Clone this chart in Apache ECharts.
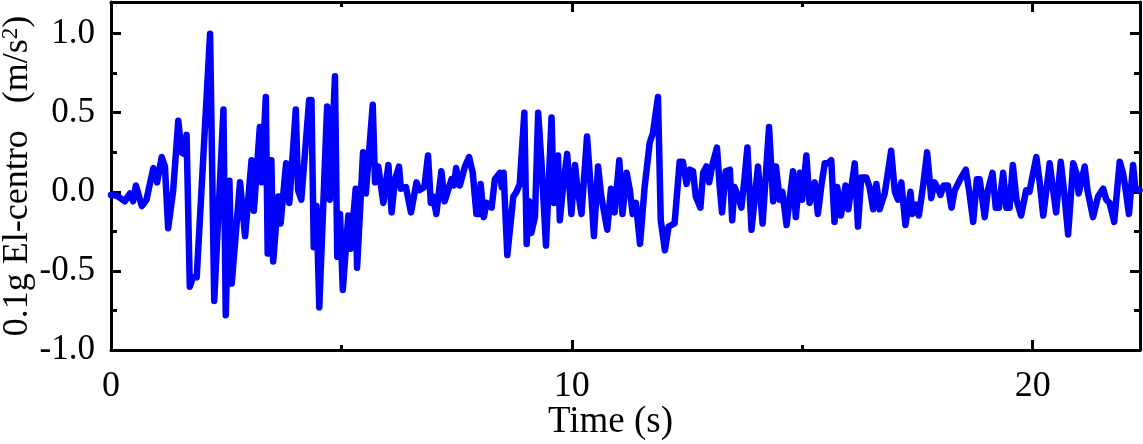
<!DOCTYPE html>
<html><head><meta charset="utf-8">
<script src="https://cdn.jsdelivr.net/npm/echarts@6/dist/echarts.min.js"></script>
<style>html,body{margin:0;padding:0;background:#fff}#c{width:1143px;height:444px}</style>
</head><body><div id="c"></div>
<script>
const timeS = [
  0.00, 0.05, 0.16, 0.30, 0.41, 0.48, 0.54, 0.67, 0.77, 0.85, 0.92, 1.00, 1.10, 1.17, 1.24, 1.35, 1.46, 1.53, 1.58, 1.64,
  1.71, 1.78, 1.86, 2.15, 2.24, 2.44, 2.49, 2.57, 2.62, 2.80, 2.91, 3.05, 3.10, 3.23, 3.27, 3.36, 3.40, 3.48, 3.52, 3.63,
  3.68, 3.80, 3.87, 4.01, 4.06, 4.13, 4.30, 4.35, 4.40, 4.46, 4.52, 4.69, 4.75, 4.86, 4.91, 4.97, 5.03, 5.15, 5.20, 5.31,
  5.34, 5.47, 5.53, 5.68, 5.73, 5.80, 5.91, 6.02, 6.09, 6.16, 6.25, 6.29, 6.40, 6.51, 6.63, 6.69, 6.80, 6.88, 6.94, 6.99,
  7.06, 7.17, 7.24, 7.39, 7.44, 7.49, 7.57, 7.68, 7.77, 7.85, 7.93, 8.00, 8.02, 8.09, 8.15, 8.26, 8.33, 8.44, 8.48, 8.52,
  8.60, 8.73, 8.80, 8.87, 8.97, 9.02, 9.07, 9.12, 9.20, 9.27, 9.34, 9.44, 9.56, 9.61, 9.70, 9.74, 9.81, 9.90, 9.99, 10.07,
  10.12, 10.21, 10.33, 10.43, 10.48, 10.57, 10.64, 10.77, 10.85, 10.93, 11.03, 11.10, 11.19, 11.26, 11.32, 11.39, 11.48, 11.58, 11.69, 11.76,
  11.87, 11.93, 12.02, 12.10, 12.23, 12.34, 12.41, 12.49, 12.56, 12.63, 12.69, 12.79, 12.85, 12.92, 12.98, 13.05, 13.15, 13.21, 13.26, 13.34,
  13.43, 13.48, 13.53, 13.61, 13.68, 13.75, 13.81, 13.90, 14.04, 14.14, 14.28, 14.37, 14.43, 14.51, 14.57, 14.66, 14.80, 14.86, 14.95, 15.00,
  15.09, 15.16, 15.27, 15.34, 15.42, 15.49, 15.56, 15.63, 15.70, 15.76, 15.84, 15.94, 16.00, 16.14, 16.21, 16.28, 16.39, 16.46, 16.54, 16.61,
  16.68, 16.79, 16.93, 17.01, 17.08, 17.15, 17.24, 17.35, 17.39, 17.46, 17.53, 17.62, 17.71, 17.80, 17.87, 17.95, 18.00, 18.07, 18.16, 18.24,
  18.31, 18.45, 18.55, 18.63, 18.71, 18.79, 18.85, 18.96, 19.03, 19.13, 19.20, 19.27, 19.36, 19.43, 19.50, 19.57, 19.65, 19.75, 19.86, 19.93,
  20.08, 20.15, 20.23, 20.37, 20.44, 20.51, 20.61, 20.68, 20.77, 20.88, 20.95, 21.00, 21.13, 21.19, 21.31, 21.42, 21.53, 21.60, 21.67, 21.77,
  21.89, 21.96, 22.01, 22.09, 22.18, 22.23, 22.32
];
const accel = [
  -0.02, -0.02, -0.03, -0.06, -0.01, -0.06, 0.04, -0.09, -0.05, 0.06, 0.15, 0.06, 0.22, 0.16, -0.23, 0.01, 0.45, 0.25, 0.24, 0.36,
  -0.60, -0.54, -0.54, 1.00, -0.69, 0.52, -0.78, 0.07, -0.58, 0.06, -0.28, 0.20, -0.12, 0.41, 0.06, 0.60, -0.39, 0.20, -0.44, -0.03,
  -0.20, 0.18, -0.07, 0.52, 0.01, -0.05, 0.58, 0.58, -0.35, -0.09, -0.73, 0.54, -0.05, 0.73, -0.41, -0.14, -0.62, -0.15, -0.36, 0.02,
  -0.48, 0.25, -0.01, 0.55, 0.06, 0.16, -0.07, 0.17, -0.13, 0.07, 0.16, 0.02, 0.03, -0.13, 0.06, 0.01, 0.03, 0.23, -0.07, -0.03,
  -0.14, 0.13, -0.06, 0.08, 0.04, 0.15, 0.04, 0.16, 0.22, 0.12, -0.14, -0.14, 0.05, -0.16, -0.07, -0.10, 0.08, 0.12, 0.03, 0.12,
  -0.40, -0.03, 0.00, 0.05, 0.50, -0.33, -0.06, -0.26, -0.16, 0.50, 0.19, -0.34, 0.47, -0.07, 0.23, -0.18, 0.03, 0.24, -0.14, 0.17,
  0.03, -0.14, 0.35, -0.05, -0.28, 0.16, -0.03, -0.24, 0.02, -0.13, 0.20, -0.14, 0.12, 0.01, -0.14, -0.07, -0.33, 0.03, 0.31, 0.37,
  0.60, -0.18, -0.37, -0.22, -0.20, 0.19, 0.19, 0.05, 0.14, 0.13, -0.03, -0.10, 0.12, 0.16, 0.06, 0.17, 0.28, 0.03, -0.13, 0.13,
  0.14, -0.18, 0.03, -0.03, -0.10, 0.09, 0.28, -0.24, 0.16, -0.20, 0.41, -0.06, 0.16, -0.05, 0.00, -0.21, 0.13, -0.16, 0.12, -0.05,
  0.23, -0.07, 0.06, -0.14, 0.05, 0.18, 0.18, 0.20, -0.19, 0.03, -0.15, 0.04, -0.11, 0.18, -0.22, 0.09, 0.09, 0.03, -0.11, 0.05,
  -0.11, -0.01, 0.26, 0.00, -0.05, 0.06, -0.21, 0.00, -0.14, -0.08, -0.15, 0.03, 0.25, -0.04, 0.06, 0.02, -0.02, 0.04, 0.04, -0.10,
  0.01, 0.09, 0.14, -0.01, -0.19, 0.08, 0.08, -0.16, 0.01, 0.12, -0.10, -0.10, 0.12, -0.10, -0.10, 0.17, -0.05, -0.15, 0.01, 0.00,
  0.22, 0.07, -0.15, 0.18, 0.02, -0.13, 0.19, 0.01, -0.27, 0.18, 0.12, -0.01, 0.16, 0.01, -0.16, -0.03, 0.02, -0.05, -0.07, -0.19,
  0.19, 0.12, 0.03, -0.14, 0.17, 0.02, 0.01
];
const xTickLabels = [0, 10, 20];
const yTickLabels = [-1.0, -0.5, 0.0, 0.5, 1.0];
const xTitle = 'Time (s)';
const yTitle = '0.1g El-centro   (m/s{sup|2})';

const FONT = 'Liberation Serif';
const black = '#000';
const chart = echarts.init(document.getElementById('c'), null, {renderer: 'canvas'});

function xAxisDef(pos, labels) {
  return {
    type: 'value', position: pos, min: 0, max: 22.33, interval: 10,
    axisLine: {show: true, onZero: false, lineStyle: {color: black, width: 3}},
    axisTick: {show: true, inside: true, length: 10, lineStyle: {color: black, width: 3}},
    minorTick: {show: true, splitNumber: 2, length: 5, lineStyle: {color: black, width: 3}},
    splitLine: {show: false}, minorSplitLine: {show: false},
    axisLabel: {
      show: labels, showMaxLabel: false, color: black, fontFamily: FONT, fontSize: 36, margin: 19,
      formatter: v => xTickLabels.includes(v) ? String(v) : ''
    },
    name: labels ? xTitle : '', nameLocation: 'middle', nameGap: 54, nameMoveOverlap: false,
    nameTextStyle: {color: black, fontFamily: FONT, fontSize: 37, padding: [0, 30, 0, 0]}
  };
}
function yAxisDef(pos, labels) {
  return {
    type: 'value', position: pos, min: -1.0, max: 1.2, interval: 0.5,
    axisLine: {show: true, onZero: false, lineStyle: {color: black, width: 3}},
    axisTick: {show: true, inside: true, length: 10, lineStyle: {color: black, width: 3}},
    minorTick: {show: true, splitNumber: 2, length: 6, lineStyle: {color: black, width: 3}},
    splitLine: {show: false}, minorSplitLine: {show: false},
    axisLabel: {
      show: labels, showMaxLabel: false, color: black, fontFamily: FONT, fontSize: 35, margin: 16,
      formatter: v => yTickLabels.some(t => Math.abs(t - v) < 1e-9) ? v.toFixed(1) : ''
    },
    name: labels ? yTitle : '', nameLocation: 'middle', nameGap: 74, nameMoveOverlap: false,
    nameTextStyle: {
      color: black, fontFamily: FONT, fontSize: 36,
      rich: {sup: {color: black, fontFamily: FONT, fontSize: 23, verticalAlign: 'top', padding: [0, 0, 15, 0]}}
    }
  };
}

chart.setOption({
  animation: false,
  backgroundColor: '#fff',
  grid: {left: 111, right: 3, top: 2, bottom: 94, containLabel: false, outerBoundsMode: 'none'},
  xAxis: [xAxisDef('bottom', true), xAxisDef('top', false)],
  yAxis: [yAxisDef('left', true), yAxisDef('right', false)],
  series: [{
    type: 'line', xAxisIndex: 0, yAxisIndex: 0,
    data: timeS.map((t, i) => [t, accel[i]]),
    showSymbol: false, symbol: 'none', smooth: false,
    lineStyle: {color: '#0000ff', width: 6.5, cap: 'round', join: 'round'}
  }]
});
</script>
</body></html>
